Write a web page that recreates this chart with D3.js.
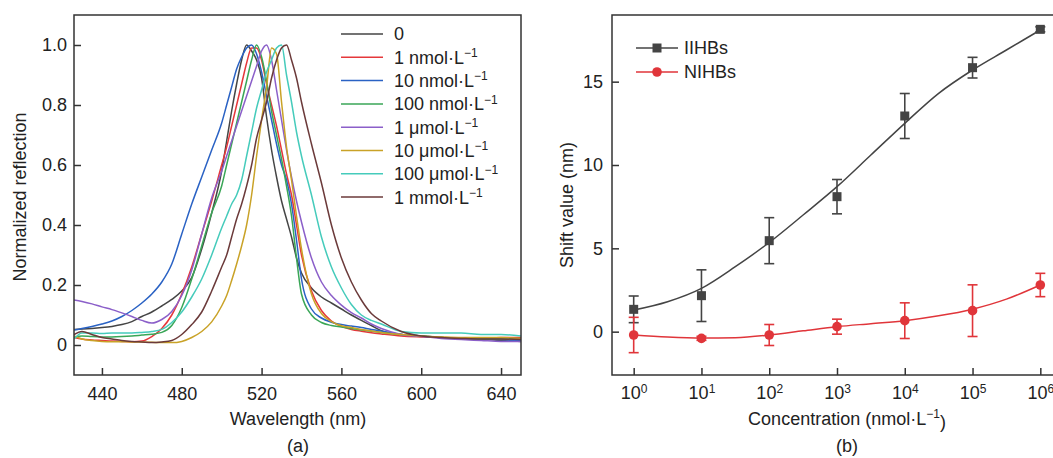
<!DOCTYPE html>
<html><head><meta charset="utf-8">
<script src="https://cdn.jsdelivr.net/npm/d3@7"></script>
<style>body{margin:0;background:#fff}svg{display:block;font-family:"Liberation Sans",Arial,sans-serif}</style>
</head><body><svg id="c" width="1053" height="458"></svg>
<script>
// ---------- Panel (a) data ----------
const wavelengths = [426,430,435,440,445,450,455,460,465,470,475,480,485,490,495,500,502.5,505,507.5,510,512.5,515,517.5,520,522.5,525,527.5,530,532.5,535,537.5,540,545,550,555,560,565,570,575,580,590,600,610,620,630,640,650];
const spec0      = [.052,.053,.055,.058,.062,.068,.078,.095,.11,.13,.152,.18,.225,.32,.44, .58,.68,.78,.87,.95,1.0,.98,.95,.89,.76,.65,.56,.48,.42,.36,.29,.24, .19,.16,.14,.12,.1,.082,.065,.048, .035,.03,.025,.022,.02,.015,.012];
const spec1n     = [.025,.02,.017,.015,.013,.012,.011,.013,.028,.055,.1,.17,.26,.37,.48, .6,.66,.73,.8,.87,.94,.99,.99,.95,.87,.8,.73,.65,.57,.5,.4,.3, .18,.115,.08,.062,.052,.046,.041,.037, .03,.027,.025,.022,.022,.025,.025];
const spec10n    = [.05,.055,.062,.07,.08,.095,.115,.14,.17,.21,.27,.37,.47,.56,.65, .74,.8,.86,.92,.96,.99,1.0,.97,.91,.83,.75,.67,.6,.55,.47,.35,.22, .12,.09,.076,.068,.063,.058,.052,.047, .035,.03,.025,.022,.02,.018,.015];
const spec100n   = [.025,.03,.028,.027,.027,.028,.03,.033,.036,.042,.065,.125,.22,.33,.44, .53,.6,.67,.74,.81,.88,.95,1.0,.96,.88,.78,.7,.62,.53,.43,.29,.17, .1,.075,.065,.06,.055,.05,.046,.042, .035,.03,.025,.022,.02,.02,.02];
const spec1u     = [.15,.145,.137,.127,.118,.107,.095,.082,.073,.085,.112,.165,.25,.37,.49, .58,.63,.68,.73,.78,.83,.88,.93,.98,1.0,.95,.85,.75,.65,.56,.48,.41, .29,.21,.165,.133,.108,.09,.07,.055, .035,.028,.022,.018,.015,.012,.012];
const spec10u    = [.03,.02,.015,.012,.011,.011,.01,.01,.009,.008,.008,.012,.025,.045,.077, .13,.165,.215,.27,.33,.4,.5,.63,.75,.86,.99,.97,.81,.66,.55,.43,.32, .17,.105,.078,.064,.058,.052,.047,.042, .035,.03,.027,.025,.025,.025,.022];
const spec100u   = [.02,.04,.04,.038,.04,.04,.04,.042,.045,.052,.075,.11,.16,.22,.3, .39,.43,.47,.5,.55,.63,.71,.79,.85,.91,.95,.99,1.0,.9,.81,.71,.63, .5,.36,.26,.19,.135,.1,.082,.07, .045,.04,.04,.04,.035,.035,.03];
const spec1m     = [.035,.045,.035,.025,.02,.015,.012,.01,.008,.01,.015,.035,.068,.11,.18, .26,.3,.36,.42,.47,.53,.6,.69,.75,.81,.89,.95,.99,1.0,.95,.89,.81, .67,.54,.4,.29,.21,.15,.105,.08, .045,.03,.025,.022,.02,.02,.018];
const seriesNames  = ["0","1 nmol·L","10 nmol·L","100 nmol·L","1 μmol·L","10 μmol·L","100 μmol·L","1 mmol·L"];
const seriesValues = [spec0,spec1n,spec10n,spec100n,spec1u,spec10u,spec100u,spec1m];
const seriesColors = ["#454545","#e5383b","#2a62c4","#3aa657","#8b5fc9","#c9a227","#45cbbb","#6b3a3a"];
const xTicksA = [440,480,520,560,600,640];
const yTicksA = [0,0.2,0.4,0.6,0.8,1.0];

// ---------- Panel (b) data ----------
const concExp   = [0,1,2,3,4,5,6];
const iihb      = [1.34,2.16,5.46,8.1,12.94,15.84,18.14];
const iihbErr   = [0.8,1.55,1.38,1.03,1.35,0.62,0.15];
const nihb      = [-0.2,-0.4,-0.2,0.3,0.66,1.26,2.8];
const nihbErr   = [1.06,0.12,0.63,0.45,1.07,1.55,0.7];
const fitExp    = [0,0.5,1,1.5,2,2.5,3,3.5,4,4.5,5,5.5,6];
const iihbFit   = [1.3,1.8,2.6,3.9,5.35,7.0,8.7,10.6,12.5,14.3,15.7,16.9,18.1];
const nihbFit   = [-0.2,-0.32,-0.38,-0.36,-0.2,0.05,0.3,0.48,0.66,0.95,1.35,1.95,2.8];
const yTicksB   = [0,5,10,15];

const svg = d3.select("#c");
const FS = 18, TXT = "#222", AX = "#333";

// ================= Panel (a) =================
const xa = d3.scaleLinear().domain([426,650]).range([74,521]);
const ya = d3.scaleLinear().domain([-0.1,1.1]).range([375,15]);
const ga = svg.append("g");
ga.append("defs").append("clipPath").attr("id","clipA").append("rect")
  .attr("x",74).attr("y",15).attr("width",447).attr("height",360);
const lineA = d3.line().x((d,i)=>xa(wavelengths[i])).y(d=>ya(d)).curve(d3.curveMonotoneX);
const curves = ga.append("g").attr("clip-path","url(#clipA)");
seriesValues.forEach((vals,k)=>{
  curves.append("path").attr("d",lineA(vals)).attr("fill","none")
    .attr("stroke",seriesColors[k]).attr("stroke-width",1.5);
});
const axA = ga.append("g").attr("transform","translate(0,375)")
  .call(d3.axisBottom(xa).tickValues(xTicksA).tickSize(-7).tickPadding(12));
const ayA = ga.append("g").attr("transform","translate(74,0)")
  .call(d3.axisLeft(ya).tickValues(yTicksA).tickSize(-7).tickPadding(7).tickFormat(d=>d===0?"0":d3.format(".1f")(d)));
[axA,ayA].forEach(a=>{a.select(".domain").remove();
  a.selectAll("line").attr("stroke",AX).attr("stroke-width",1.5);
  a.selectAll("text").attr("font-size",FS).attr("fill",TXT).attr("font-family","Liberation Sans, Arial, sans-serif");});
ga.append("rect").attr("x",74).attr("y",15).attr("width",447).attr("height",360)
  .attr("fill","none").attr("stroke",AX).attr("stroke-width",1.5);
// legend
const legA = ga.append("g");
seriesNames.forEach((n,k)=>{
  const y = 34 + k*23.3;
  legA.append("line").attr("x1",341).attr("x2",383).attr("y1",y).attr("y2",y)
    .attr("stroke",seriesColors[k]).attr("stroke-width",1.5);
  const t = legA.append("text").attr("x",394).attr("y",y).attr("dy","0.36em")
    .attr("font-size",FS).attr("fill",TXT).text(n);
  if(k>0) t.append("tspan").attr("dy","-0.55em").attr("font-size",12).text("−1");
});
ga.append("text").attr("x",298).attr("y",425).attr("text-anchor","middle").attr("font-size",FS).attr("fill",TXT).text("Wavelength (nm)");
ga.append("text").attr("x",298).attr("y",452).attr("text-anchor","middle").attr("font-size",FS).attr("fill",TXT).text("(a)");
ga.append("text").attr("transform","translate(26,197) rotate(-90)").attr("text-anchor","middle").attr("font-size",FS).attr("fill",TXT).text("Normalized reflection");

// ================= Panel (b) =================
const xb = d3.scaleLog().domain([Math.pow(10,-0.32),Math.pow(10,6.32)]).range([612,1062]);
const yb = d3.scaleLinear().domain([-2.6,19.0]).range([375,15]);
const gb = svg.append("g");
const axB = gb.append("g").attr("transform","translate(0,375)")
  .call(d3.axisBottom(xb).tickValues(concExp.map(e=>Math.pow(10,e))).tickSize(-7).tickPadding(11).tickFormat(()=> ""));
axB.selectAll(".tick text").each(function(d){
  const e = Math.round(Math.log10(d));
  const t = d3.select(this).text("10");
  t.append("tspan").attr("dy","-0.5em").attr("font-size",12).text(e);
});
const ayB = gb.append("g").attr("transform","translate(612,0)")
  .call(d3.axisLeft(yb).tickValues(yTicksB).tickSize(-7).tickPadding(9));
[axB,ayB].forEach(a=>{a.select(".domain").remove();
  a.selectAll("line").attr("stroke",AX).attr("stroke-width",1.5);
  a.selectAll("text").attr("font-size",FS).attr("fill",TXT).attr("font-family","Liberation Sans, Arial, sans-serif");});
axB.selectAll(".tick text tspan").attr("font-size",12);
gb.append("rect").attr("x",612).attr("y",15).attr("width",450).attr("height",360)
  .attr("fill","none").attr("stroke",AX).attr("stroke-width",1.5);

const lineB = d3.line().x((d,i)=>xb(Math.pow(10,fitExp[i]))).y(d=>yb(d)).curve(d3.curveMonotoneX);
const BLK = "#444", RED = "#e0353a";
gb.append("path").attr("d",lineB(iihbFit)).attr("fill","none").attr("stroke",BLK).attr("stroke-width",1.5);
gb.append("path").attr("d",lineB(nihbFit)).attr("fill","none").attr("stroke",RED).attr("stroke-width",1.5);

function errBars(vals, errs, color){
  const g = gb.append("g").attr("stroke",color).attr("stroke-width",1.6);
  vals.forEach((v,i)=>{
    const x = xb(Math.pow(10,concExp[i]));
    const y1 = yb(v+errs[i]), y2 = yb(v-errs[i]);
    g.append("line").attr("x1",x).attr("x2",x).attr("y1",y1).attr("y2",y2);
    g.append("line").attr("x1",x-5).attr("x2",x+5).attr("y1",y1).attr("y2",y1);
    g.append("line").attr("x1",x-5).attr("x2",x+5).attr("y1",y2).attr("y2",y2);
  });
}
errBars(iihb,iihbErr,BLK);
errBars(nihb,nihbErr,RED);
gb.append("g").selectAll("rect").data(iihb).join("rect")
  .attr("x",(d,i)=>xb(Math.pow(10,concExp[i]))-4.5).attr("y",d=>yb(d)-4.5)
  .attr("width",9).attr("height",9).attr("fill",BLK);
gb.append("g").selectAll("circle").data(nihb).join("circle")
  .attr("cx",(d,i)=>xb(Math.pow(10,concExp[i]))).attr("cy",d=>yb(d)).attr("r",4.8).attr("fill",RED);

// legend b
const legB = gb.append("g");
legB.append("line").attr("x1",636).attr("x2",678).attr("y1",48).attr("y2",48).attr("stroke",BLK).attr("stroke-width",1.5);
legB.append("rect").attr("x",652.5).attr("y",43.5).attr("width",9).attr("height",9).attr("fill",BLK);
legB.append("text").attr("x",684).attr("y",48).attr("dy","0.36em").attr("font-size",FS).attr("fill",TXT).text("IIHBs");
legB.append("line").attr("x1",636).attr("x2",678).attr("y1",72).attr("y2",72).attr("stroke",RED).attr("stroke-width",1.5);
legB.append("circle").attr("cx",657).attr("cy",72).attr("r",4.8).attr("fill",RED);
legB.append("text").attr("x",684).attr("y",72).attr("dy","0.36em").attr("font-size",FS).attr("fill",TXT).text("NIHBs");

const tC = gb.append("text").attr("x",847).attr("y",425).attr("text-anchor","middle").attr("font-size",FS).attr("fill",TXT).text("Concentration (nmol·L");
tC.append("tspan").attr("dy","-0.55em").attr("font-size",12).text("−1");
tC.append("tspan").attr("dy","0.55em").text(")");
gb.append("text").attr("x",847).attr("y",452).attr("text-anchor","middle").attr("font-size",FS).attr("fill",TXT).text("(b)");
gb.append("text").attr("transform","translate(573,205) rotate(-90)").attr("text-anchor","middle").attr("font-size",FS).attr("fill",TXT).text("Shift value (nm)");
</script></body></html>
